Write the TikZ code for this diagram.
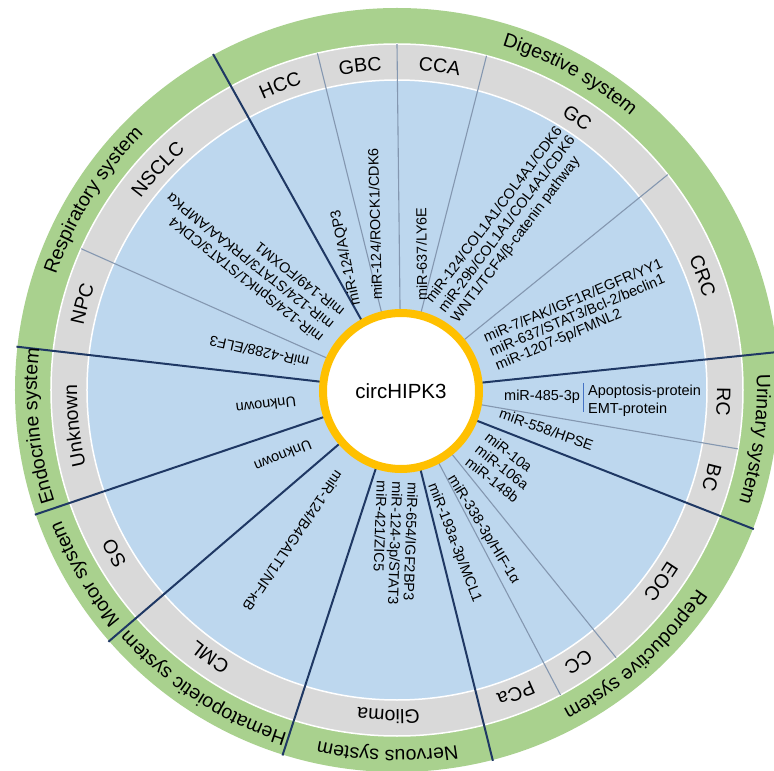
\documentclass[tikz,border=0pt]{standalone}
\usepackage{fontspec}
\setmainfont{Liberation Sans}
\usetikzlibrary{decorations.text}

\definecolor{sysgreen}{HTML}{A9D18E}
\definecolor{ringgray}{HTML}{D9D9D9}
\definecolor{fieldblue}{HTML}{BDD7EE}
\definecolor{coreorange}{HTML}{FFC000}
\definecolor{navy}{HTML}{1F3864}
\definecolor{thinblue}{HTML}{8497B0}
\definecolor{barblue}{HTML}{4472C4}

\newcommand{\ringfont}{\fontsize{19.5}{20}\selectfont}
\newcommand{\mifont}{\fontsize{14.5}{16}\selectfont}

% curved label along a clockwise arc: centre angle, baseline radius, text
\newcommand{\ringtext}[3]{%
  \path[decorate, decoration={text along path, text align=center,
      text={|\ringfont|#3}}]
    ({#1+45}:#2) arc[start angle={#1+45}, end angle={#1-45}, radius=#2];
}

\tikzset{
  major/.style={draw=navy, line width=2pt},
  minor/.style={draw=thinblue, line width=1.1pt},
  lbl/.style={font=\mifont, inner sep=0pt, anchor=west,
              text height=10.4pt, text depth=0pt},
}

\begin{document}
\begin{tikzpicture}[x=1pt, y=1pt]
\useasboundingbox (-397,-381) rectangle (377,390);
\clip (-397,-381) rectangle (377,390);

% rings: organ systems, tumour types, mechanisms
\fill[sysgreen] (0,0) circle[radius=382];
\draw[white, line width=1.5pt, fill=ringgray] (0,0) circle[radius=346];
\draw[white, line width=1.5pt, fill=fieldblue] (0,0) circle[radius=310];

\coordinate (hub) at (4,-1);

% borders between organ systems
\foreach \nm/\ang in {a/118.7, f/5.7, h/-21.3, k/-75.5, l/252.6, m/221.1, n/199, o/173.5}
  \draw[major] (hub) -- (\ang:383) coordinate (s-\nm);
% borders between tumour types inside a system
\foreach \nm/\ang in {b/103.3, c/90, d/75, e/38.5, g/-9.8, i/-50.7, j/-61.8, p/155.9}
  \draw[minor] (hub) -- (\ang:346) coordinate (s-\nm);

% central molecule
\node[circle, draw=coreorange, line width=8pt, fill=white, minimum size=156pt,
      inner sep=0pt, font=\fontsize{20.5}{22}\selectfont] (core) at (hub) {circHIPK3};

% organ systems
\ringtext{61.3}{360}{Digestive system}
\ringtext{-7.8}{360}{Urinary system}
\ringtext{-48}{360}{Reproductive system}
\ringtext{-91.5}{360}{Nervous system}
\ringtext{237}{360}{Hematopoietic system}
\ringtext{210.5}{360}{Motor system}
\ringtext{185.75}{360}{Endocrine system}
\ringtext{148}{360}{Respiratory system}

% tumour types
\ringtext{111}{320}{HCC}
\ringtext{96.5}{320}{GBC}
\ringtext{82.5}{320}{CCA}
\ringtext{56.5}{320}{GC}
\ringtext{20.5}{320}{CRC}
\ringtext{-2}{320}{RC}
\ringtext{-15.5}{320}{BC}
\ringtext{-36}{320}{EOC}
\ringtext{-56.25}{320}{CC}
\ringtext{-68.6}{320}{PCa}
\ringtext{-91.5}{320}{Glioma}
\ringtext{235}{320}{CML}
\ringtext{210}{320}{SO}
\ringtext{186.3}{320}{Unknown}
\ringtext{164.7}{320}{NPC}
\ringtext{137.3}{320}{NSCLC}

% mechanisms
\node[lbl, rotate=102] (hcc-t) at (-42,84) {miR-124/AQP3};
\node[lbl, rotate=91.5] (gbc-t) at (-20,90) {miR-124/ROCK1/CDK6};
\node[lbl, rotate=90.5] (cca-t) at (25,89) {miR-637/LY6E};

\begin{scope}[shift={(31,89)}, rotate=53, transform shape]
  \node[lbl] (gc-1) at (0,0) {miR-124/COL1A1/COL4A1/CDK6};
  \node[lbl] (gc-2) at (0,-16) {miR-29b/COL1A1/COL4A1/CDK6};
  \node[lbl] (gc-3) at (0,-32) {WNT1/TCF4/β-catenin pathway};
\end{scope}

\begin{scope}[shift={(87,52)}, rotate=23, transform shape]
  \node[lbl] (crc-1) at (0,0) {miR-7/FAK/IGF1R/EGFR/YY1};
  \node[lbl] (crc-2) at (0,-15) {miR-637/STAT3/Bcl-2/beclin1};
  \node[lbl] (crc-3) at (0,-30) {miR-1207-5p/FMNL2};
\end{scope}

\node[lbl] (rc-t) at (107,-5) {miR-485-3p};
\draw[barblue, line width=0.8pt] (186,7) -- (186,-22);
\node[lbl] (rc-a) at (191,0) {Apoptosis-protein};
\node[lbl] (rc-b) at (191,-18) {EMT-protein};

\node[lbl, rotate=-19.5] (bc-t) at (103,-23) {miR-558/HPSE};

\begin{scope}[shift={(90,-45)}, rotate=-38, transform shape]
  \node[lbl] (eoc-1) at (0,0) {miR-10a};
  \node[lbl] (eoc-2) at (0,-16) {miR-106a};
  \node[lbl] (eoc-3) at (0,-32) {miR-148b};
\end{scope}

\node[lbl, rotate=-58.5] (cc-t) at (55,-86) {miR-338-3p/HIF-1α};
\node[lbl, rotate=-69] (pca-t) at (36,-93) {miR-193a-3p/MCL1};

\begin{scope}[shift={(16,-92)}, rotate=-92, transform shape]
  \node[lbl] (gli-1) at (0,0) {miR-654/IGF2BP3};
  \node[lbl] (gli-2) at (0,-15.5) {miR-124-3p/STAT3};
  \node[lbl] (gli-3) at (0,-31) {miR-421/ZIC5};
\end{scope}

\node[lbl, rotate=235.8] (cml-t) at (-57,-82) {miR-124/B4GALT1/NF-κB};
\node[lbl, anchor=center, rotate=202] (so-t) at (-114,-66) {Unknown};
\node[lbl, anchor=center, rotate=187] (endo-t) at (-131,-15) {Unknown};
\node[lbl, rotate=167.3] (npc-t) at (-88,27) {miR-4288/ELF3};

\begin{scope}[shift={(-76,50)}, rotate=141.5, transform shape]
  \node[lbl] (nsclc-1) at (0,0) {miR-124/SphK1/STAT3/CDK4};
  \node[lbl] (nsclc-2) at (0,-17) {miR-124/STAT3/PRKAA/AMPKα};
  \node[lbl] (nsclc-3) at (0,-34) {miR-149/FOXM1};
\end{scope}
\end{tikzpicture}
\end{document}
